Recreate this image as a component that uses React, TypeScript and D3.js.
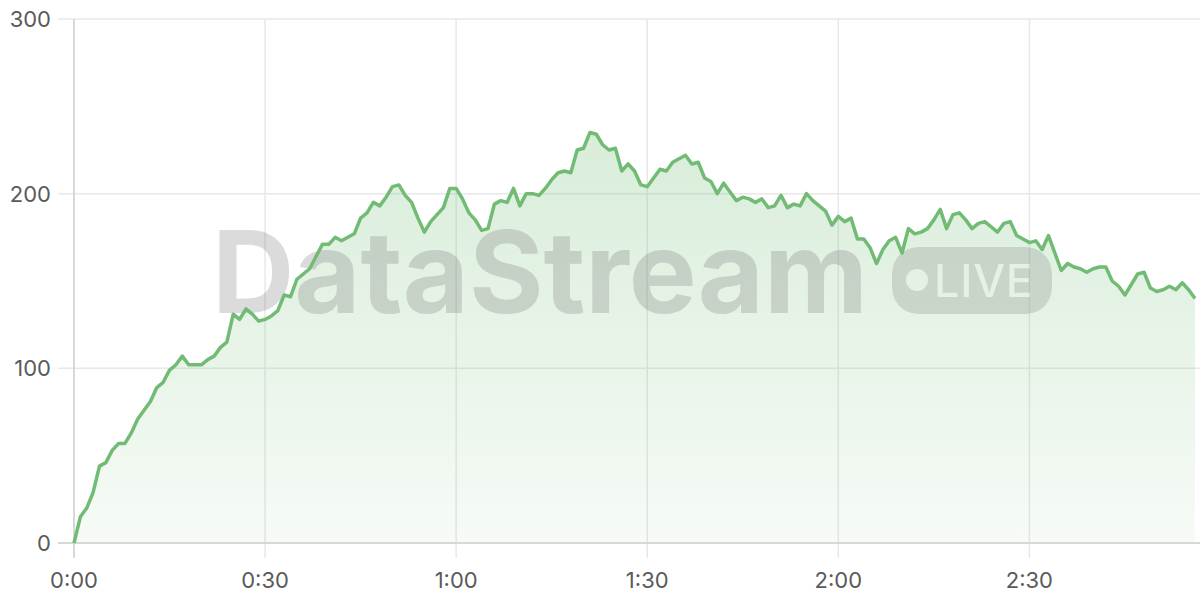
import React from 'react';
import * as d3 from 'd3';

// viewers per minute, one reading each minute from 0:00
const viewerCounts: number[] = [
  0, 15, 20, 29, 44, 46, 53, 57, 57, 63,
  71, 76, 81, 89, 92, 99, 102, 107, 102, 102,
  102, 105, 107, 112, 115, 131, 128, 134, 131, 127,
  128, 130, 133, 142, 141, 151, 154, 157, 164, 171,
  171, 175, 173, 175, 177, 186, 189, 195, 193, 198,
  204, 205, 199, 195, 186, 178, 184, 188, 192, 203,
  203, 197, 189, 185, 179, 180, 194, 196, 195, 203,
  193, 200, 200, 199, 203, 208, 212, 213, 212, 225,
  226, 235, 234, 228, 225, 226, 213, 217, 213, 205,
  204, 209, 214, 213, 218, 220, 222, 217, 218, 209,
  207, 200, 206, 201, 196, 198, 197, 195, 197, 192,
  193, 199, 192, 194, 193, 200, 196, 193, 190, 182,
  187, 184, 186, 174, 174, 169, 160, 168, 173, 175,
  166, 180, 177, 178, 180, 185, 191, 180, 188, 189,
  185, 180, 183, 184, 181, 178, 183, 184, 176, 174,
  172, 173, 168, 176, 166, 156, 160, 158, 157, 155,
  157, 158, 158, 150, 147, 142, 148, 154, 155, 146,
  144, 145, 147, 145, 149, 145, 140,
];

const xTicks = [0, 30, 60, 90, 120, 150];
const xTickLabels = ['0:00', '0:30', '1:00', '1:30', '2:00', '2:30'];
const yTicks = [0, 100, 200, 300];

const width = 1200;
const height = 600;
const margin = { top: 19, right: 5, bottom: 57, left: 74 };

const lineColor = '#72bb75';
const gridColor = '#e8e8e8';
const axisColor = '#d0d0d0';
const labelColor = '#5a5a5a';
const font = 'Inter, "Noto Sans", sans-serif';

export default function App() {
  const x = d3
    .scaleLinear()
    .domain([0, viewerCounts.length - 1])
    .range([margin.left, width - margin.right]);
  const y = d3.scaleLinear().domain([0, 300]).range([height - margin.bottom, margin.top]);

  const line = d3
    .line<number>()
    .x((_, i) => x(i))
    .y(d => y(d));
  const area = d3
    .area<number>()
    .x((_, i) => x(i))
    .y0(y(0))
    .y1(d => y(d));

  const plotBottom = y(0);

  return (
    <div style={{ position: 'absolute', left: 0, top: 0, width, height, background: '#fff' }}>
      <svg width={width} height={height} style={{ display: 'block' }}>
        <defs>
          <linearGradient id="fillGrad" x1="0" y1={margin.top} x2="0" y2={plotBottom} gradientUnits="userSpaceOnUse">
            <stop offset="0" stopColor="#6cba6f" stopOpacity={0.32} />
            <stop offset="1" stopColor="#6cba6f" stopOpacity={0.06} />
          </linearGradient>
          <mask id="liveMask">
            <rect x={892} y={247} width={160} height={67} rx={26} fill="#fff" />
            <circle cx={917} cy={280} r={11} fill="#000" />
            <text
              x={934}
              y={297}
              fontFamily={font}
              fontSize={45}
              fontWeight={500}
              fill="#000"
              textLength={99}
              lengthAdjust="spacing"
            >
              LIVE
            </text>
          </mask>
        </defs>

        {/* grid */}
        {yTicks.map(t => (
          <line key={'gy' + t} x1={margin.left - 16} x2={width} y1={y(t)} y2={y(t)} stroke={gridColor} strokeWidth={1.5} />
        ))}
        {xTicks.map(t => (
          <line key={'gx' + t} x1={x(t)} x2={x(t)} y1={margin.top} y2={plotBottom + 15} stroke={gridColor} strokeWidth={1.5} />
        ))}

        {/* area */}
        <path d={area(viewerCounts) || ''} fill="url(#fillGrad)" />

        {/* watermark */}
        <text
          x={212}
          y={313}
          fontFamily={font}
          fontSize={114}
          fontWeight={700}
          fill="rgba(110,110,110,0.25)"
          textLength={656}
          lengthAdjust="spacingAndGlyphs"
        >
          DataStream
        </text>
        <rect x={892} y={247} width={160} height={67} rx={26} fill="rgba(110,110,110,0.22)" mask="url(#liveMask)" />

        {/* axes */}
        <line x1={margin.left} x2={margin.left} y1={margin.top} y2={plotBottom + 15} stroke={axisColor} strokeWidth={1.5} />
        <line x1={margin.left - 16} x2={width} y1={plotBottom} y2={plotBottom} stroke={axisColor} strokeWidth={1.5} />

        {/* line */}
        <path d={line(viewerCounts) || ''} fill="none" stroke={lineColor} strokeWidth={3.5} strokeLinejoin="round" />

        {/* labels */}
        {yTicks.map(t => (
          <text key={'ly' + t} x={51} y={y(t)} dy="0.36em" textAnchor="end" fontFamily={font} fontSize={22} fill={labelColor}>
            {t}
          </text>
        ))}
        {xTicks.map((t, i) => (
          <text key={'lx' + t} x={x(t)} y={588} textAnchor="middle" fontFamily={font} fontSize={22} fill={labelColor}>
            {xTickLabels[i]}
          </text>
        ))}
      </svg>
    </div>
  );
}
